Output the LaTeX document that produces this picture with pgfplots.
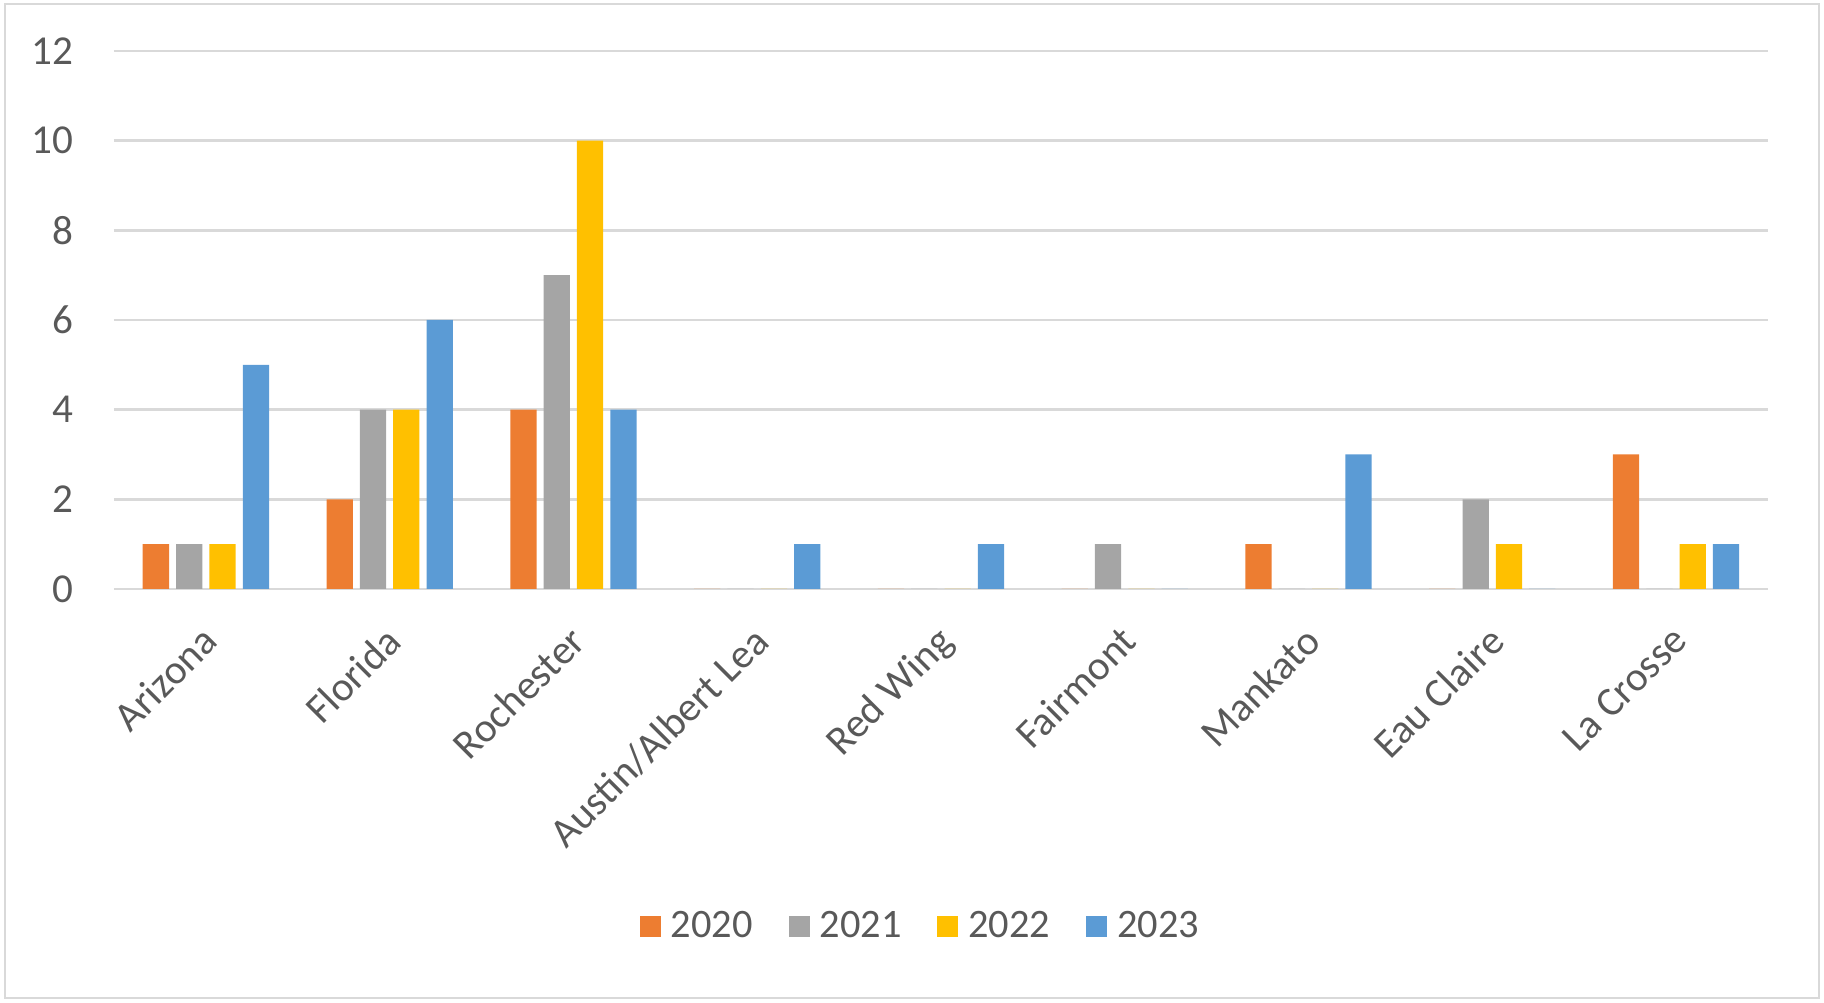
\documentclass[border=0pt]{standalone}
\usepackage{pgfplots}
\pgfplotsset{compat=1.18}
\usepackage{fontspec}
\setmainfont{Carlito}
\definecolor{cOrange}{HTML}{ED7D31}
\definecolor{cGray}{HTML}{A5A5A5}
\definecolor{cGold}{HTML}{FFC000}
\definecolor{cBlue}{HTML}{5B9BD5}
\definecolor{cGrid}{HTML}{D9D9D9}
\definecolor{cText}{HTML}{595959}
\begin{document}
\begin{tikzpicture}
\path[use as bounding box] (-11.4mm,-41.4mm) rectangle (171.0mm,58.9mm);
\draw[cGrid, line width=0.6pt] (-10.9mm,-40.9mm) rectangle (170.5mm,58.5mm);
\begin{axis}[
  at={(0,0)}, anchor=south west,
  scale only axis,
  width=165.4mm, height=53.8mm,
  xmin=-0.5, xmax=8.5,
  ymin=0, ymax=12,
  ytick={0,2,...,12},
  xtick={0,...,8},
  xticklabels={Arizona,Florida,Rochester,Austin/Albert Lea,Red Wing,Fairmont,Mankato,Eau Claire,La Crosse},
  major tick length=0pt,
  axis line style={draw=none},
  ymajorgrids,
  grid style={cGrid, line width=0.7pt},
  /pgf/number format/assume math mode=true,
  tick label style={font=\fontsize{11.7}{13}\selectfont, text=cText, inner sep=0pt},
  yticklabel style={anchor=east, xshift=-4.0mm},
  xticklabel style={anchor=north east, xshift=-0.6mm, yshift=-3.4mm, rotate=45},
  ybar, bar width=0.1429,
  legend columns=4,
  legend style={at={(0.487,-0.628)}, anchor=center, draw=none, fill=none,
    font=\fontsize{11.5}{13}\selectfont, text=cText,
    inner sep=0pt,
    /tikz/every odd column/.append style={column sep=1.0mm},
    /tikz/every even column/.append style={column sep=3.6mm},
    nodes={inner sep=0pt}},
  legend image code/.code={\fill[#1] (0mm,-1.05mm) rectangle (2.1mm,1.05mm);},
]
\addplot[fill=cOrange, draw=none, bar shift=-0.2721] coordinates {(0,1) (1,2) (2,4) (3,0) (4,0) (5,0) (6,1) (7,0) (8,3)};
\addplot[fill=cGray, draw=none, bar shift=-0.0907] coordinates {(0,1) (1,4) (2,7) (3,0) (4,0) (5,1) (6,0) (7,2) (8,0)};
\addplot[fill=cGold, draw=none, bar shift=0.0907] coordinates {(0,1) (1,4) (2,10) (3,0) (4,0) (5,0) (6,0) (7,1) (8,1)};
\addplot[fill=cBlue, draw=none, bar shift=0.2721] coordinates {(0,5) (1,6) (2,4) (3,1) (4,1) (5,0) (6,3) (7,0) (8,1)};
\legend{2020,2021,2022,2023}
\end{axis}
\end{tikzpicture}
\end{document}
